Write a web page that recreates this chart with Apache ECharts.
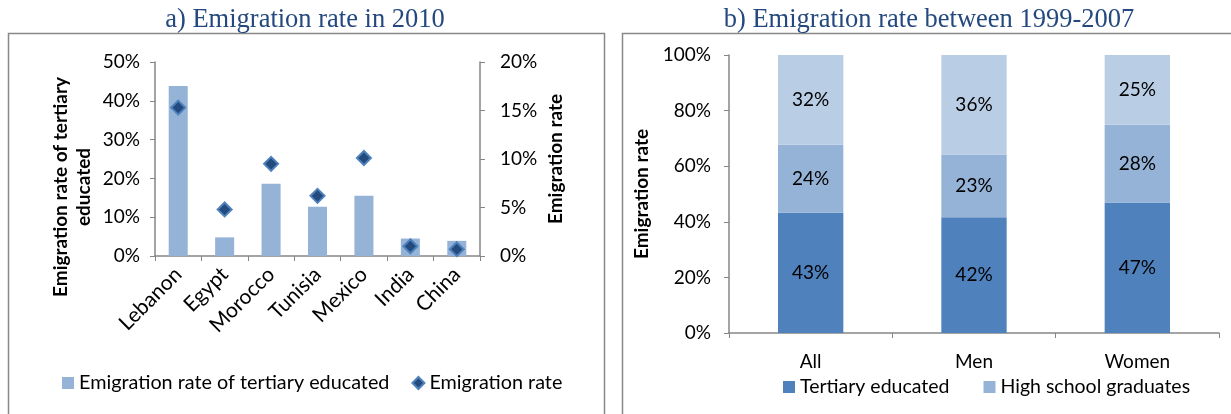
<!DOCTYPE html>
<html>
<head>
<meta charset="utf-8">
<script src="https://cdn.jsdelivr.net/npm/echarts@6/dist/echarts.min.js"></script>
<style>
  html, body { margin: 0; padding: 0; background: #fff; }
  #main { width: 1231px; height: 414px; }
</style>
</head>
<body>
<div id="main"></div>
<script>
// panel a) data
var countries = ['Lebanon', 'Egypt', 'Morocco', 'Tunisia', 'Mexico', 'India', 'China'];
var tertiaryRate = [43.8, 4.8, 18.6, 12.7, 15.5, 4.5, 3.9];
var emigrationRate = [15.3, 4.8, 9.5, 6.2, 10.1, 1.0, 0.7];

// panel b) data (100% stacked)
var groups = ['All', 'Men', 'Women'];
var tertiaryShare = [43.3, 41.6, 46.9];
var highSchoolShare = [24.4, 22.6, 28.0];
var otherShare = [32.3, 35.8, 25.1];

var axisGrey = '#868686';
var txt = '#000';
var font = 'Lato';
var fs = 19;

var chart = echarts.init(document.getElementById('main'));

var pct = function (v) { return v + '%'; };
var roundPct = function (p) { return Math.round(p.value) + '%'; };

// left axis title sits lower than the axis middle in the original, so draw it as text
var nameStyle = { fill: txt, font: 'bold ' + fs + 'px ' + font, textAlign: 'center', textVerticalAlign: 'middle' };

var option = {
    backgroundColor: '#fff',
    animation: false,
    textStyle: { fontFamily: font },
    title: [
        {
            text: 'a) Emigration rate in 2010',
            left: 300, top: 2, textAlign: 'center',
            textStyle: { fontFamily: 'Liberation Serif', fontWeight: 'normal', fontSize: 26.5, color: '#24497f' }
        },
        {
            text: 'b) Emigration rate between 1999-2007',
            left: 924, top: 2, textAlign: 'center',
            textStyle: { fontFamily: 'Liberation Serif', fontWeight: 'normal', fontSize: 26.5, color: '#24497f' }
        }
    ],
    graphic: [
        { type: 'rect', shape: { x: 8.5, y: 33.5, width: 596, height: 400 }, style: { fill: 'none', stroke: '#888', lineWidth: 1.5 }, silent: true },
        { type: 'rect', shape: { x: 622.5, y: 33.5, width: 620, height: 400 }, style: { fill: 'none', stroke: '#888', lineWidth: 1.5 }, silent: true },
        { type: 'text', x: 61, y: 187, rotation: Math.PI / 2, style: Object.assign({ text: 'Emigration rate of tertiary' }, nameStyle), silent: true },
        { type: 'text', x: 84, y: 187, rotation: Math.PI / 2, style: Object.assign({ text: 'educated' }, nameStyle), silent: true }
    ],
    legend: [
        {
            left: 57, top: 368,
            itemWidth: 12, itemHeight: 12, itemGap: 22,
            textStyle: { fontSize: 19.8, color: txt, fontFamily: font },
            data: [
                { name: 'Emigration rate of tertiary educated', icon: 'rect' },
                { name: 'Emigration rate', icon: 'diamond' }
            ]
        },
        {
            left: 778, top: 372,
            itemWidth: 12, itemHeight: 12, itemGap: 34,
            textStyle: { fontSize: 19.5, color: txt, fontFamily: font },
            data: [
                { name: 'Tertiary educated', icon: 'rect' },
                { name: 'High school graduates', icon: 'rect' }
            ]
        }
    ],
    grid: [
        { left: 155, right: 751, top: 62, bottom: 158 },
        { left: 729, right: 12, top: 55, bottom: 81 }
    ],
    xAxis: [
        {
            type: 'category', gridIndex: 0, data: countries,
            axisLine: { lineStyle: { color: axisGrey, width: 1.5 } },
            axisTick: { show: true, length: 5, lineStyle: { color: axisGrey } },
            axisLabel: { rotate: 45, fontSize: 21, color: txt, margin: 15 }
        },
        {
            type: 'category', gridIndex: 1, data: groups,
            axisLine: { lineStyle: { color: axisGrey, width: 1.5 } },
            axisTick: { show: true, length: 5, lineStyle: { color: axisGrey } },
            axisLabel: { fontSize: fs, color: txt, margin: 19 }
        }
    ],
    yAxis: [
        {
            type: 'value', gridIndex: 0, position: 'left',
            min: 0, max: 50, interval: 10,
            axisLine: { show: true, lineStyle: { color: axisGrey, width: 1.5 } },
            axisTick: { show: true, length: 5, lineStyle: { color: axisGrey } },
            axisLabel: { formatter: pct, fontSize: fs, color: txt, margin: 15 },
            splitLine: { show: false }
        },
        {
            type: 'value', gridIndex: 0, position: 'right',
            min: 0, max: 20, interval: 5,
            name: 'Emigration rate',
            nameLocation: 'middle', nameGap: 66, nameRotate: 90,
            nameTextStyle: { fontSize: fs, fontWeight: 'bold', color: txt },
            axisLine: { show: true, lineStyle: { color: axisGrey, width: 1.5 } },
            axisTick: { show: true, length: 5, lineStyle: { color: axisGrey } },
            axisLabel: { formatter: pct, fontSize: fs, color: txt, margin: 20 },
            splitLine: { show: false }
        },
        {
            type: 'value', gridIndex: 1,
            min: 0, max: 100, interval: 20,
            name: 'Emigration rate',
            nameLocation: 'middle', nameGap: 78, nameRotate: 90,
            nameTextStyle: { fontSize: fs, fontWeight: 'bold', color: txt },
            axisLine: { show: true, lineStyle: { color: axisGrey, width: 1.5 } },
            axisTick: { show: true, length: 5, lineStyle: { color: axisGrey } },
            axisLabel: { formatter: pct, fontSize: fs, color: txt, margin: 18 },
            splitLine: { show: false }
        }
    ],
    series: [
        {
            name: 'Emigration rate of tertiary educated', type: 'bar',
            xAxisIndex: 0, yAxisIndex: 0, data: tertiaryRate,
            barWidth: '41%',
            itemStyle: { color: '#95b3d7' }
        },
        {
            name: 'Emigration rate', type: 'scatter',
            xAxisIndex: 0, yAxisIndex: 1, data: emigrationRate,
            symbol: 'diamond', symbolSize: 14,
            itemStyle: { color: '#234b7e', borderColor: '#4f81bd', borderWidth: 2, opacity: 1 }
        },
        {
            name: 'Tertiary educated', type: 'bar', stack: 'b',
            xAxisIndex: 1, yAxisIndex: 2, data: tertiaryShare,
            barWidth: '40%',
            itemStyle: { color: '#4f81bd' },
            label: { show: true, position: 'inside', fontSize: fs, color: txt, formatter: roundPct }
        },
        {
            name: 'High school graduates', type: 'bar', stack: 'b',
            xAxisIndex: 1, yAxisIndex: 2, data: highSchoolShare,
            barWidth: '40%',
            itemStyle: { color: '#95b3d7' },
            label: { show: true, position: 'inside', fontSize: fs, color: txt, formatter: roundPct }
        },
        {
            name: 'Other', type: 'bar', stack: 'b',
            xAxisIndex: 1, yAxisIndex: 2, data: otherShare,
            barWidth: '40%',
            itemStyle: { color: '#b9cde5' },
            label: { show: true, position: 'inside', fontSize: fs, color: txt, formatter: roundPct }
        }
    ]
};

chart.setOption(option);
</script>
</body>
</html>
